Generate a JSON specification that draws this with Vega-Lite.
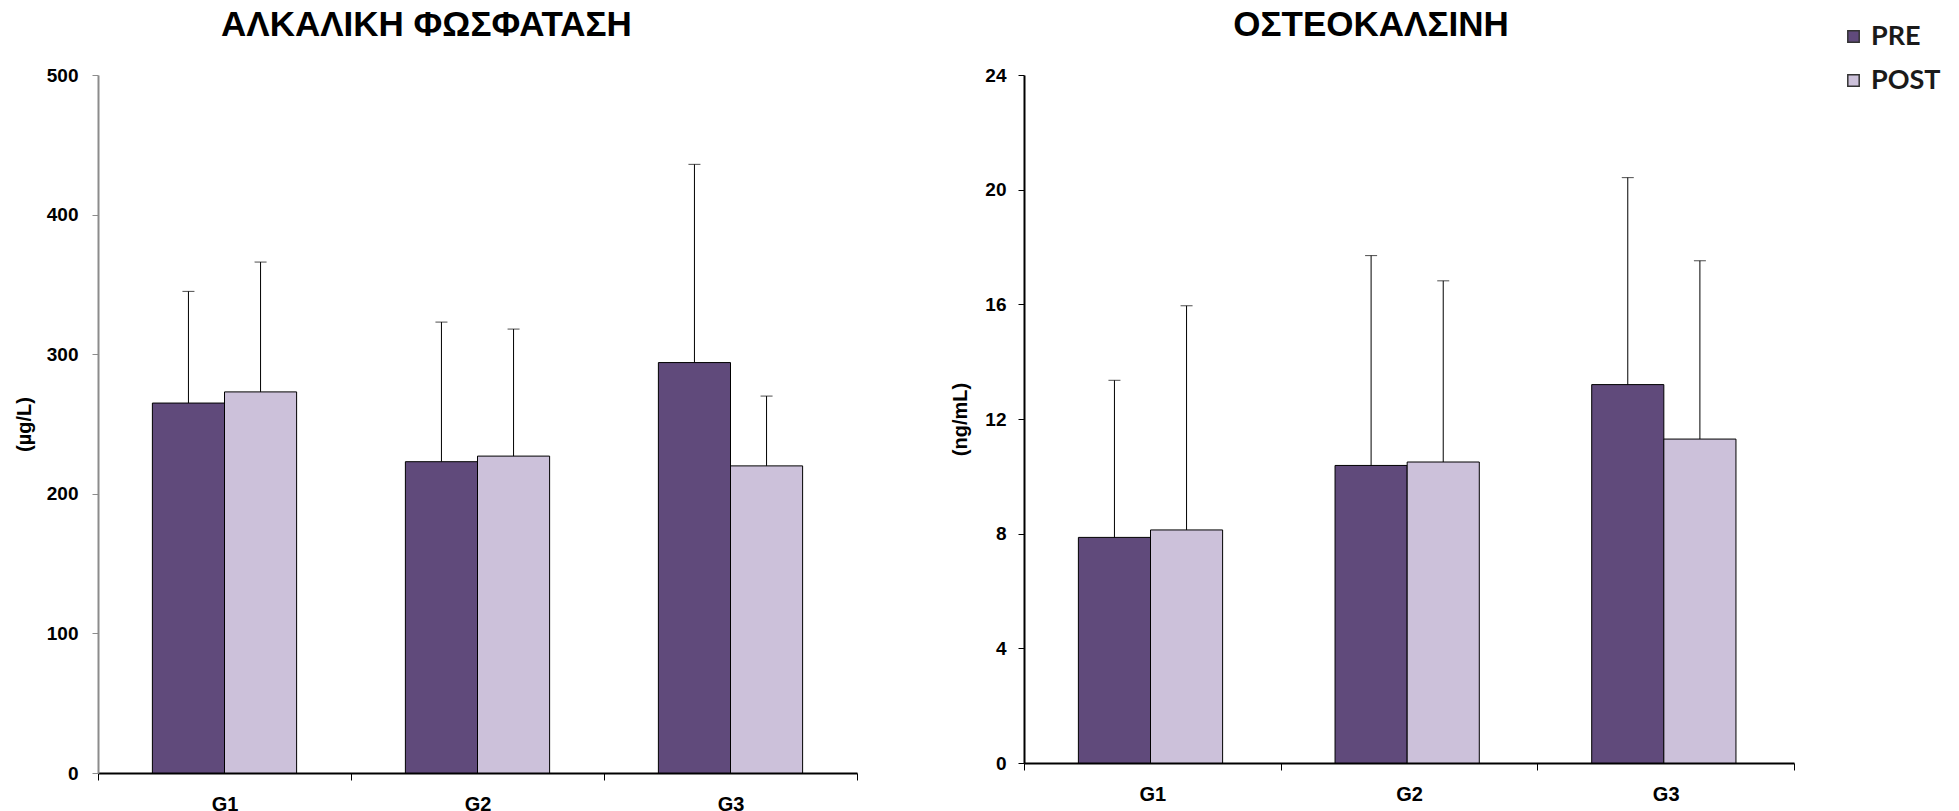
{
  "$schema": "https://vega.github.io/schema/vega-lite/v6.json",
  "background": "white",
  "padding": {"left": 14, "top": 8, "right": 0, "bottom": 0},
  "spacing": 92,
  "config": {
    "view": {"stroke": null},
    "font": "Liberation Sans",
    "axis": {
      "labelFont": "Liberation Sans",
      "labelFontWeight": "bold",
      "labelFontSize": 19,
      "labelColor": "black",
      "titleFont": "Liberation Sans",
      "titleFontWeight": "bold",
      "titleFontSize": 20,
      "titleColor": "black",
      "grid": false,
      "domainColor": "black",
      "tickColor": "black"
    },
    "title": {
      "font": "Liberation Sans",
      "fontSize": 35,
      "fontWeight": "bold",
      "color": "black",
      "frame": "group",
      "anchor": "middle",
      "baseline": "alphabetic"
    }
  },
  "datasets": {
    "alp": [
      {"group": "G1", "time": "PRE", "mean": 265, "upper": 345},
      {"group": "G1", "time": "POST", "mean": 273, "upper": 366},
      {"group": "G2", "time": "PRE", "mean": 223, "upper": 323},
      {"group": "G2", "time": "POST", "mean": 227, "upper": 318},
      {"group": "G3", "time": "PRE", "mean": 294, "upper": 436},
      {"group": "G3", "time": "POST", "mean": 220, "upper": 270}
    ],
    "osteo": [
      {"group": "G1", "time": "PRE", "mean": 7.87, "upper": 13.35},
      {"group": "G1", "time": "POST", "mean": 8.13, "upper": 15.95},
      {"group": "G2", "time": "PRE", "mean": 10.38, "upper": 17.7},
      {"group": "G2", "time": "POST", "mean": 10.5, "upper": 16.82},
      {"group": "G3", "time": "PRE", "mean": 13.2, "upper": 20.42},
      {"group": "G3", "time": "POST", "mean": 11.3, "upper": 17.52}
    ]
  },
  "resolve": {"scale": {"color": "independent", "y": "independent"}, "legend": {"color": "independent"}},
  "hconcat": [
    {
      "width": 759,
      "height": 698,
      "title": {"text": "ΑΛΚΑΛΙΚΗ ΦΩΣΦΑΤΑΣΗ", "dx": -51, "offset": 23},
      "data": {"name": "alp"},
      "encoding": {
        "x": {"field": "group", "type": "nominal", "scale": {"paddingInner": 0, "paddingOuter": 0},
          "axis": {"title": null, "labelAngle": 0, "tickBand": "extent", "domainWidth": 2, "tickSize": 7, "tickWidth": 1, "labelPadding": 14, "labelFontSize": 20}},
        "xOffset": {"field": "time", "type": "nominal", "sort": ["PRE", "POST"], "scale": {"domain": ["PRE", "POST"], "paddingInner": 0, "paddingOuter": 0.754}}
      },
      "layer": [
        {
          "mark": {"type": "bar", "stroke": "black", "strokeWidth": 1},
          "encoding": {
            "y": {"field": "mean", "type": "quantitative", "scale": {"domain": [0, 500]},
              "axis": {"title": "(µg/L)", "values": [0, 100, 200, 300, 400, 500], "domainColor": "#8c8c8c", "tickColor": "#8c8c8c", "domainWidth": 2, "tickSize": 6, "labelPadding": 14, "titleX": -74, "titleBaseline": "middle"}},
            "color": {"field": "time", "type": "nominal", "scale": {"domain": ["PRE", "POST"], "range": ["#604A7B", "#CCC1DA"]}, "legend": null}
          }
        },
        {
          "mark": {"type": "rule", "color": "black", "strokeWidth": 1},
          "encoding": {
            "y": {"field": "mean", "type": "quantitative", "scale": {"domain": [0, 500]}},
            "y2": {"field": "upper"}
          }
        },
        {
          "mark": {"type": "tick", "color": "black", "thickness": 1, "size": 12, "orient": "horizontal"},
          "encoding": {
            "y": {"field": "upper", "type": "quantitative", "scale": {"domain": [0, 500]}}
          }
        }
      ]
    },
    {
      "width": 770,
      "height": 688,
      "title": {"text": "ΟΣΤΕΟΚΑΛΣΙΝΗ", "dx": -38, "offset": -20},
      "data": {"name": "osteo"},
      "encoding": {
        "x": {"field": "group", "type": "nominal", "scale": {"paddingInner": 0, "paddingOuter": 0},
          "axis": {"title": null, "labelAngle": 0, "tickBand": "extent", "domainWidth": 2, "tickSize": 7, "tickWidth": 1, "labelPadding": 14, "labelFontSize": 20}},
        "xOffset": {"field": "time", "type": "nominal", "sort": ["PRE", "POST"], "scale": {"domain": ["PRE", "POST"], "paddingInner": 0, "paddingOuter": 0.754}}
      },
      "layer": [
        {
          "mark": {"type": "bar", "stroke": "black", "strokeWidth": 1},
          "encoding": {
            "y": {"field": "mean", "type": "quantitative", "scale": {"domain": [0, 24]},
              "axis": {"title": "(ng/mL)", "values": [0, 4, 8, 12, 16, 20, 24], "domainWidth": 2, "tickSize": 6, "labelPadding": 12, "titleX": -64, "titleBaseline": "middle"}},
            "color": {"field": "time", "type": "nominal", "scale": {"domain": ["PRE", "POST"], "range": ["#604A7B", "#CCC1DA"]},
              "legend": {"orient": "none", "legendX": 816, "legendY": -52, "title": null, "labelFont": "Lato", "labelFontSize": 27, "labelFontWeight": "bold", "labelColor": "#1a1a1a", "symbolType": "square", "symbolSize": 130, "symbolStrokeColor": "#333333", "symbolStrokeWidth": 1.5, "rowPadding": 16, "labelOffset": 4}}
          }
        },
        {
          "mark": {"type": "rule", "color": "black", "strokeWidth": 1},
          "encoding": {
            "y": {"field": "mean", "type": "quantitative", "scale": {"domain": [0, 24]}},
            "y2": {"field": "upper"}
          }
        },
        {
          "mark": {"type": "tick", "color": "black", "thickness": 1, "size": 12, "orient": "horizontal"},
          "encoding": {
            "y": {"field": "upper", "type": "quantitative", "scale": {"domain": [0, 24]}}
          }
        }
      ]
    }
  ]
}
